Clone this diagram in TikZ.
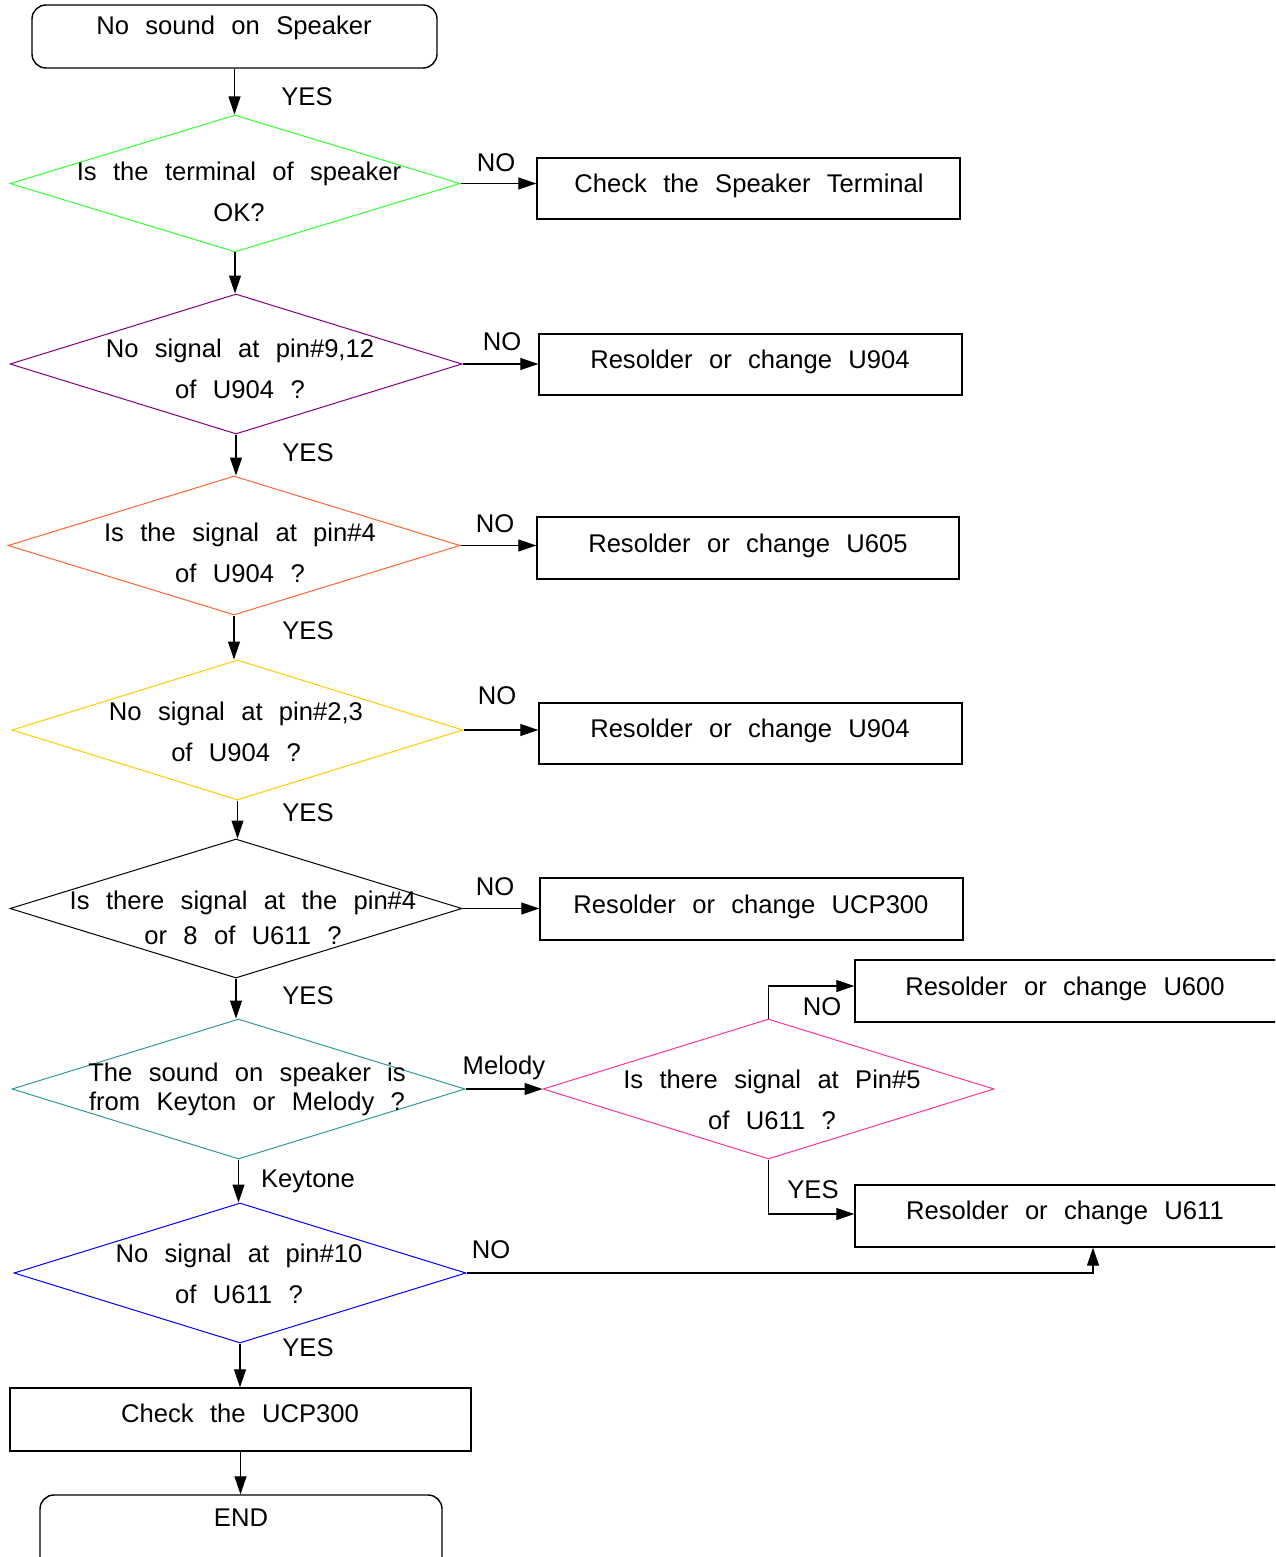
\documentclass[tikz,border=0pt]{standalone}
\usepackage{fontspec}
\setmainfont[WordSpace=2.3]{Liberation Sans}
\usetikzlibrary{shapes.geometric,arrows.meta}
\definecolor{cgreen}{RGB}{51,255,51}
\definecolor{cpurple}{RGB}{128,0,128}
\definecolor{corange}{RGB}{255,102,51}
\definecolor{cyellow}{RGB}{255,204,0}
\definecolor{cteal}{RGB}{51,153,153}
\definecolor{cpink}{RGB}{255,51,153}
\definecolor{cblue}{RGB}{0,0,255}
\begin{document}
\begin{tikzpicture}[x=0.5pt,y=-0.5pt,
  every node/.style={font=\fontsize{12.8}{14}\selectfont, inner sep=0pt},
  dia/.style={diamond, draw, line width=0.5pt, inner sep=0pt},
  box/.style={rectangle, draw=black, line width=0.7pt, inner sep=0pt},
  rbox/.style={box, rounded corners=7pt},
  conn/.style={draw, line width=0.6pt, -{Triangle[length=9pt,width=6pt]}},
  two/.style={align=center},
]
\useasboundingbox (0,0) rectangle (1275,1557);
\clip (0,0) rectangle (1275,1557);
\fill[white] (0,0) rectangle (1275,1557);

% shapes
\node[rbox, minimum width=202.5pt, minimum height=31.5pt] (start) at (234.5,36.5) {};
\node[dia, cgreen,  minimum width=225pt,   minimum height=68.5pt] (d1) at (235,183.5) {};
\node[dia, cpurple, minimum width=226pt,   minimum height=70pt]   (d2) at (236,364) {};
\node[dia, corange, minimum width=226pt,   minimum height=69.5pt] (d3) at (234,545.5) {};
\node[dia, cyellow, minimum width=225.5pt, minimum height=70pt]   (d4) at (237.5,730) {};
\node[dia, black,   minimum width=226pt,   minimum height=69.5pt] (d5) at (236,908.5) {};
\node[dia, cteal,   minimum width=226.5pt, minimum height=70pt]   (d6) at (238.5,1089) {};
\node[dia, cpink,   minimum width=225.5pt, minimum height=70pt]   (d7) at (768.5,1089) {};
\node[dia, cblue,   minimum width=226pt,   minimum height=70pt]   (d8) at (240,1273) {};

\node[box, minimum width=211.5pt, minimum height=30.5pt] (b1) at (748.5,188.5) {};
\node[box, minimum width=211.5pt, minimum height=30.5pt] (b2) at (750.5,364.5) {};
\node[box, minimum width=211pt,   minimum height=31pt]   (b3) at (748,548) {};
\node[box, minimum width=211.5pt, minimum height=30.5pt] (b4) at (750.5,733.5) {};
\node[box, minimum width=211.5pt, minimum height=31pt]   (b5) at (751.5,909) {};
\node[box, minimum width=238pt,   minimum height=31pt]   (b6) at (1093,991) {};
\node[box, minimum width=238pt,   minimum height=31pt]   (b7) at (1093,1216) {};
\node[box, minimum width=230.5pt, minimum height=31.5pt] (c)  at (240.5,1419.5) {};
\node[rbox, minimum width=201pt,  minimum height=40pt]   (e)  at (241,1535) {};

% texts
\node (t0) at (234,28) {No sound on Speaker};
\node[two, font=\fontsize{12.8}{20.5}\selectfont] (t1) at (239,191.5) {Is the terminal of speaker\\OK?};
\node[two, font=\fontsize{12.8}{20.5}\selectfont] (t2) at (240,369) {No signal at pin\#9,12\\of U904 ?};
\node[two, font=\fontsize{12.8}{20.5}\selectfont] (t3) at (240,553) {Is the signal at pin\#4\\of U904 ?};
\node[two, font=\fontsize{12.8}{20.5}\selectfont] (t4) at (236,731.5) {No signal at pin\#2,3\\of U904 ?};
\node[two, font=\fontsize{12.8}{17.5}\selectfont] (t5) at (243,917.5) {Is there signal at the pin\#4\\or 8 of U611 ?};
\node[two, font=\fontsize{12.8}{14.5}\selectfont] (t6) at (247,1089.5) {The sound on speaker is\\from Keyton or Melody ?};
\node[two, font=\fontsize{12.8}{20.5}\selectfont] (t7) at (772,1099.5) {Is there signal at Pin\#5\\of U611 ?};
\node[two, font=\fontsize{12.8}{20.5}\selectfont] (t8) at (239,1274) {No signal at pin\#10\\of U611 ?};

\node (tb1) at (749,186) {Check the Speaker Terminal};
\node (tb2) at (750,362) {Resolder or change U904};
\node (tb3) at (748,546) {Resolder or change U605};
\node (tb4) at (750,731) {Resolder or change U904};
\node (tb5) at (751,907) {Resolder or change UCP300};
\node (tb6) at (1065,989) {Resolder or change U600};
\node (tb7) at (1065,1213) {Resolder or change U611};
\node (tc)  at (240,1413) {Check the UCP300};
\node (te)  at (241,1518) {END};

% connectors
\draw[conn] (start.south) -- (start.south |- d1.north);
\draw[conn] (d1.east) -- (d1.east -| b1.west);
\draw[conn] (d1.south) -- (d1.south |- d2.north);
\draw[conn] (d2.east) -- (d2.east -| b2.west);
\draw[conn] (d2.south) -- (d2.south |- d3.north);
\draw[conn] (d3.east) -- (d3.east -| b3.west);
\draw[conn] (d3.south) -- (d3.south |- d4.north);
\draw[conn] (d4.east) -- (d4.east -| b4.west);
\draw[conn] (d4.south) -- (d4.south |- d5.north);
\draw[conn] (d5.east) -- (d5.east -| b5.west);
\draw[conn] (d5.south) -- (d5.south |- d6.north);
\draw[conn] (d6.east) -- (d7.west);
\draw[conn] (d7.north) |- ([yshift=2.5pt]b6.west);
\draw[conn] (d7.south) |- ([yshift=1pt]b7.west);
\draw[conn] (d6.south) -- (d6.south |- d8.north);
\draw[conn] (d8.east) -| (b7.south);
\draw[conn] (d8.south) -- (d8.south |- c.north);
\draw[conn] (c.south) -- (c.south |- e.north);

% labels
\node (l1) at (307,97) {YES};
\node (l2) at (496,163) {NO};
\node (l3) at (502,342) {NO};
\node (l4) at (308,453) {YES};
\node (l5) at (495,524) {NO};
\node (l6) at (308,631) {YES};
\node (l7) at (497,696) {NO};
\node (l8) at (308,813) {YES};
\node (l9) at (495,887) {NO};
\node (l10) at (308,996) {YES};
\node (l11) at (504,1068) {Melody};
\node (l12) at (822,1007) {NO};
\node (l13) at (813,1190) {YES};
\node (l14) at (308,1181) {Keytone};
\node (l15) at (491,1250) {NO};
\node (l16) at (308,1348) {YES};
\end{tikzpicture}
\end{document}
